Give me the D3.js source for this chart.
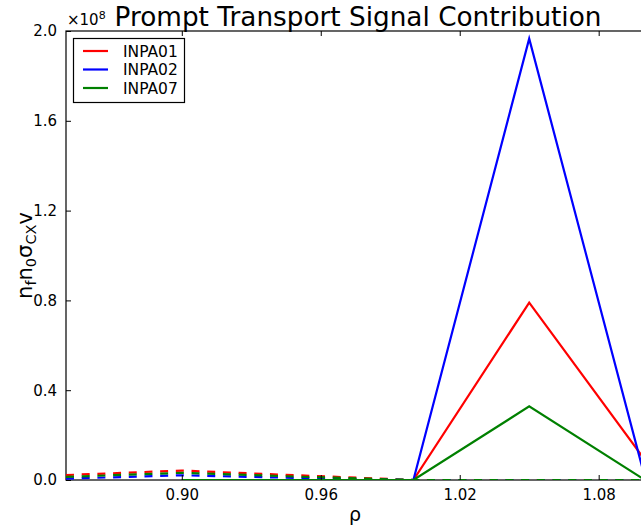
<!DOCTYPE html>
<html>
<head>
<meta charset="utf-8">
<script src="https://cdn.jsdelivr.net/npm/d3@7/dist/d3.min.js"></script>
<style>
  html, body { margin: 0; padding: 0; background: #fff; }
  svg { display: block; font-family: "DejaVu Sans", sans-serif; }
</style>
</head>
<body>
<svg id="chart" width="641" height="531"></svg>
<script>
// Radial grid (rho) and signal values, in units of 1e8
const rhoSolid = [0.90, 0.95, 1.00, 1.05, 1.10];
const rhoDashed = [0.85, 0.90, 0.95, 1.00, 1.05, 1.10];

const seriesNames = ["INPA01", "INPA02", "INPA07"];
const seriesColors = ["#ff0000", "#0000ff", "#008000"];

// prompt transport contribution (solid)
const inpa01Solid = [0, 0, 0, 0.79, 0.089];
const inpa02Solid = [0, 0, 0, 1.966, 0.01];
const inpa07Solid = [0, 0, 0, 0.328, 0.0];

// secondary component (dashed)
const inpa01Dashed = [0.022, 0.042, 0.021, 0, 0, 0];
const inpa02Dashed = [0.006, 0.021, 0.009, 0, 0, 0];
const inpa07Dashed = [0.014, 0.032, 0.015, 0, 0, 0];

const xTicks = [0.90, 0.96, 1.02, 1.08];
const yTicks = [0.0, 0.4, 0.8, 1.2, 1.6, 2.0];

const svg = d3.select("#chart");
const mLeft = 66, mRight = 645, mTop = 31, mBottom = 480;

const x = d3.scaleLinear().domain([0.85, 1.10]).range([mLeft, mRight]);
const y = d3.scaleLinear().domain([0, 2.0]).range([mBottom, mTop]);

svg.append("defs").append("clipPath").attr("id", "plotClip")
  .append("rect").attr("x", mLeft).attr("y", mTop)
  .attr("width", mRight - mLeft).attr("height", mBottom - mTop);

const line = d3.line().x(d => x(d[0])).y(d => y(d[1]));

const solids = [inpa01Solid, inpa02Solid, inpa07Solid];
const dashed = [inpa01Dashed, inpa02Dashed, inpa07Dashed];

// frame
svg.append("rect").attr("x", mLeft).attr("y", mTop)
  .attr("width", mRight - mLeft).attr("height", mBottom - mTop)
  .attr("fill", "none").attr("stroke", "#000").attr("stroke-width", 1.2);

const plot = svg.append("g").attr("clip-path", "url(#plotClip)");

seriesNames.forEach((name, i) => {
  plot.append("path")
    .datum(rhoSolid.map((r, k) => [r, solids[i][k]]))
    .attr("d", line).attr("fill", "none")
    .attr("stroke", seriesColors[i]).attr("stroke-width", 2.2);
  plot.append("path")
    .datum(rhoDashed.map((r, k) => [r, dashed[i][k]]))
    .attr("d", line).attr("fill", "none")
    .attr("stroke", seriesColors[i]).attr("stroke-width", 2.2)
    .attr("stroke-dasharray", "8,7.7");
});

// axes with inward ticks
const xBottom = d3.axisBottom(x).tickValues(xTicks).tickFormat(d3.format(".2f"))
  .tickSizeInner(-5).tickSizeOuter(0).tickPadding(9);
const gx = svg.append("g").attr("transform", `translate(0,${mBottom})`).call(xBottom);
const xTop = d3.axisTop(x).tickValues(xTicks).tickFormat("")
  .tickSizeInner(-5).tickSizeOuter(0);
const gxt = svg.append("g").attr("transform", `translate(0,${mTop})`).call(xTop);
const yLeft = d3.axisLeft(y).tickValues(yTicks).tickFormat(d3.format(".1f"))
  .tickSizeInner(-5).tickSizeOuter(0).tickPadding(9);
const gy = svg.append("g").attr("transform", `translate(${mLeft},0)`).call(yLeft);

[gx, gxt, gy].forEach(g => {
  g.select(".domain").remove();
  g.selectAll("line").attr("stroke", "#000").attr("stroke-width", 1);
  g.selectAll("text").attr("font-size", 15).attr("fill", "#000")
    .attr("font-family", "DejaVu Sans, sans-serif");
});

// offset label
const off = svg.append("text").attr("x", 67).attr("y", 25)
  .attr("font-size", 15).attr("fill", "#000");
off.append("tspan").text("×10");
off.append("tspan").attr("dy", -6).attr("font-size", 11).text("8");

// title
svg.append("text").attr("x", 358).attr("y", 26).attr("text-anchor", "middle")
  .attr("font-size", 26.3).attr("fill", "#000")
  .text("Prompt Transport Signal Contribution");

// x label
svg.append("text").attr("x", 355).attr("y", 521).attr("text-anchor", "middle")
  .attr("font-size", 19).attr("fill", "#000").text("ρ");

// y label with subscripts
const yl = svg.append("text")
  .attr("transform", `translate(32,${(mTop + mBottom) / 2}) rotate(-90)`)
  .attr("text-anchor", "middle").attr("font-size", 21).attr("fill", "#000");
yl.append("tspan").text("n");
yl.append("tspan").attr("font-size", 14.5).attr("dy", 4).text("f");
yl.append("tspan").attr("dy", -4).text("n");
yl.append("tspan").attr("font-size", 14.5).attr("dy", 4).text("0");
yl.append("tspan").attr("dy", -4).text("σ");
yl.append("tspan").attr("font-size", 14.5).attr("dy", 4).text("CX");
yl.append("tspan").attr("dy", -4).text("v");

// legend
const lg = svg.append("g");
lg.append("rect").attr("x", 73.5).attr("y", 38.5).attr("width", 111).attr("height", 64)
  .attr("fill", "#fff").attr("stroke", "#000").attr("stroke-width", 1.2);
seriesNames.forEach((name, i) => {
  const yy = 51 + i * 18.5;
  lg.append("line").attr("x1", 83).attr("x2", 108).attr("y1", yy).attr("y2", yy)
    .attr("stroke", seriesColors[i]).attr("stroke-width", 2.2);
  lg.append("text").attr("x", 123).attr("y", yy + 5.5).attr("font-size", 15.5)
    .attr("fill", "#000").text(name);
});
</script>
</body>
</html>
